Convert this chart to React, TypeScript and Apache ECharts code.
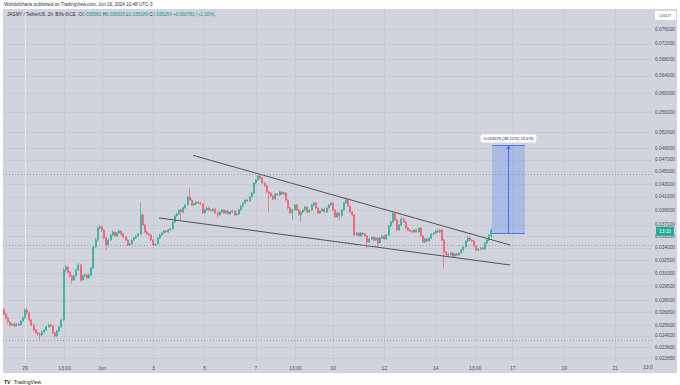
import React, { useEffect, useRef } from "react";
import * as echarts from "echarts";

// ---- time axis (hours relative to May 29, 00:00) ----
const candleStartHour = -20; // first 2h candle: May 28, 04:00
const candleStepHours = 2;
const xMinHour = -20.6;
const xMaxHour = 586.3;
const xTickHours = [0, 37, 72, 120, 168, 216, 253, 288, 336, 384, 421, 456, 504, 552];
const xTickLabels = ["29", "13:00", "Jun", "3", "5", "7", "13:00", "10", "12", "14", "13:00", "17", "19", "21"];

// ---- price axis (logarithmic) ----
const yMinPrice = 0.02235;
const yMaxPrice = 0.08153;
const yTickPrices = [
  0.076, 0.072, 0.068, 0.064, 0.06, 0.056, 0.052, 0.049, 0.047, 0.045, 0.043, 0.041, 0.039, 0.037,
  0.0355, 0.034, 0.0325, 0.031, 0.0295, 0.028, 0.0268, 0.0256, 0.0246, 0.0236, 0.02265,
];

// ---- JASMY / USDT 2h candles ----
const firstOpen = 0.0271;
const closes = [
  0.02667, 0.02628, 0.02589, 0.02561, 0.0257, 0.02552, 0.0257, 0.02561, 0.02598, 0.02628,
  0.02706, 0.02676, 0.02608, 0.02561, 0.02514, 0.02487, 0.02477, 0.02469, 0.02496, 0.02514,
  0.02542, 0.02561, 0.02552, 0.02487, 0.0246, 0.02505, 0.02542, 0.02608, 0.03135, 0.0317,
  0.03112, 0.03067, 0.03022, 0.03067, 0.03135, 0.03193, 0.03022, 0.03067, 0.03078, 0.03044,
  0.03078, 0.03158, 0.03412, 0.035, 0.03658, 0.03672, 0.03631, 0.03526, 0.03437, 0.035,
  0.03565, 0.03604, 0.03552, 0.03591, 0.03618, 0.03578, 0.03539, 0.035, 0.03437, 0.03449,
  0.035, 0.03526, 0.03552, 0.03578, 0.03838, 0.03699, 0.03604, 0.03578, 0.03565, 0.035,
  0.03437, 0.03449, 0.03526, 0.03565, 0.03591, 0.03618, 0.03604, 0.03631, 0.03645, 0.0374,
  0.03824, 0.03852, 0.03909, 0.0388, 0.03937, 0.03981, 0.041, 0.04055, 0.03981, 0.03996,
  0.04025, 0.04011, 0.03996, 0.03866, 0.03909, 0.03937, 0.03909, 0.03895, 0.03923, 0.03866,
  0.03838, 0.0388, 0.03909, 0.03866, 0.03895, 0.03852, 0.0388, 0.03895, 0.03838, 0.03852,
  0.03909, 0.03966, 0.04011, 0.04055, 0.0404, 0.041, 0.04161, 0.04316, 0.04364, 0.04429,
  0.04396, 0.04316, 0.04269, 0.04176, 0.04161, 0.04115, 0.0407, 0.04146, 0.0413, 0.04176,
  0.04146, 0.04161, 0.04055, 0.03937, 0.03866, 0.03909, 0.03981, 0.03909, 0.03838, 0.0388,
  0.03909, 0.03952, 0.0388, 0.03909, 0.03981, 0.04011, 0.03937, 0.03866, 0.03895, 0.03923,
  0.0388, 0.03937, 0.03981, 0.04011, 0.03909, 0.0381, 0.03866, 0.03824, 0.03909, 0.04011,
  0.04055, 0.03966, 0.0388, 0.03838, 0.03565, 0.03591, 0.03552, 0.03591, 0.03578, 0.03552,
  0.03474, 0.03513, 0.03539, 0.035, 0.03526, 0.03462, 0.03526, 0.03552, 0.03513, 0.03565,
  0.03685, 0.0374, 0.03852, 0.03768, 0.03631, 0.03699, 0.03782, 0.0374, 0.03658, 0.03631,
  0.03618, 0.03604, 0.03631, 0.03604, 0.03658, 0.03552, 0.03474, 0.03513, 0.03487, 0.03526,
  0.03578, 0.03591, 0.03618, 0.03604, 0.03631, 0.035, 0.03349, 0.03325, 0.03313, 0.03337,
  0.03301, 0.03325, 0.03313, 0.03337, 0.03374, 0.03412, 0.03487, 0.03526, 0.035, 0.03487,
  0.03424, 0.03374, 0.03387, 0.03399, 0.03387, 0.03462, 0.035, 0.035581, 0.036254,
];
const highs = [
  0.02725, 0.0268, 0.0264, 0.026, 0.02584, 0.02582, 0.02582, 0.0258, 0.0261, 0.02645,
  0.02725, 0.0273, 0.0269, 0.0262, 0.02575, 0.02525, 0.025, 0.0249, 0.02508, 0.02526,
  0.02555, 0.02575, 0.02572, 0.02565, 0.02495, 0.02515, 0.02552, 0.0262, 0.0316, 0.03195,
  0.0318, 0.03125, 0.0308, 0.0308, 0.03148, 0.03215, 0.03205, 0.03085, 0.03095, 0.0309,
  0.0309, 0.0317, 0.0343, 0.03525, 0.0368, 0.037, 0.0369, 0.03645, 0.0354, 0.03515,
  0.0358, 0.03625, 0.03615, 0.03605, 0.03632, 0.0363, 0.0359, 0.0355, 0.0351, 0.03465,
  0.03512, 0.0354, 0.03565, 0.03592, 0.04025, 0.0386, 0.03712, 0.03618, 0.0359, 0.03578,
  0.0351, 0.03462, 0.0354, 0.0358, 0.03605, 0.03632, 0.0363, 0.03645, 0.0366, 0.03755,
  0.0384, 0.03868, 0.03925, 0.03922, 0.03952, 0.03998, 0.0412, 0.04238, 0.0407, 0.04012,
  0.0404, 0.0404, 0.04025, 0.04008, 0.03925, 0.03952, 0.0395, 0.03922, 0.03938, 0.03935,
  0.03878, 0.03895, 0.03922, 0.0392, 0.03908, 0.03905, 0.03895, 0.0391, 0.03905, 0.03866,
  0.03922, 0.0398, 0.04025, 0.0407, 0.04068, 0.04115, 0.04176, 0.04332, 0.0438, 0.04446,
  0.04462, 0.0441, 0.0433, 0.0428, 0.0419, 0.04175, 0.04128, 0.0416, 0.04162, 0.04192,
  0.0419, 0.04176, 0.04172, 0.04065, 0.0395, 0.03922, 0.03995, 0.03995, 0.0392, 0.03892,
  0.03922, 0.03966, 0.03965, 0.03922, 0.03995, 0.0403, 0.04022, 0.0395, 0.03908, 0.03938,
  0.03935, 0.0395, 0.03995, 0.04025, 0.04022, 0.0392, 0.0388, 0.03878, 0.03922, 0.04025,
  0.04085, 0.04068, 0.03978, 0.03892, 0.0385, 0.03605, 0.03605, 0.03605, 0.03605, 0.0359,
  0.03565, 0.03526, 0.03552, 0.03552, 0.0354, 0.03539, 0.0354, 0.03565, 0.03565, 0.03578,
  0.037, 0.03755, 0.0388, 0.03866, 0.03782, 0.03712, 0.0381, 0.03796, 0.03754, 0.03672,
  0.03645, 0.03632, 0.03645, 0.03645, 0.03672, 0.03672, 0.03565, 0.03526, 0.03526, 0.03539,
  0.03591, 0.03604, 0.03632, 0.03658, 0.03645, 0.03645, 0.03513, 0.03362, 0.03337, 0.0335,
  0.03349, 0.03337, 0.03337, 0.03349, 0.03387, 0.03424, 0.035, 0.03552, 0.03539, 0.03513,
  0.035, 0.03437, 0.03399, 0.03412, 0.03412, 0.03474, 0.03513, 0.03578, 0.036635,
];
const lows = [
  0.0265, 0.02612, 0.02575, 0.02548, 0.0255, 0.0254, 0.02542, 0.02549, 0.02552, 0.0259,
  0.0262, 0.02662, 0.02595, 0.02548, 0.025, 0.02475, 0.02462, 0.02424, 0.02458, 0.02488,
  0.02505, 0.02535, 0.0254, 0.02478, 0.02445, 0.02452, 0.02498, 0.02535, 0.026, 0.0311,
  0.03095, 0.0305, 0.0298, 0.0301, 0.03058, 0.03125, 0.03, 0.0301, 0.03055, 0.0303,
  0.03035, 0.0307, 0.0315, 0.034, 0.0349, 0.0364, 0.0361, 0.03505, 0.03374, 0.0342,
  0.0349, 0.03555, 0.0354, 0.0354, 0.0358, 0.03565, 0.03525, 0.03488, 0.0342, 0.03425,
  0.0344, 0.0349, 0.03515, 0.0354, 0.0357, 0.03685, 0.0359, 0.03565, 0.0355, 0.03488,
  0.0342, 0.03425, 0.0344, 0.03515, 0.03555, 0.0358, 0.03592, 0.03595, 0.0362, 0.03635,
  0.0373, 0.0381, 0.0384, 0.03768, 0.03865, 0.03925, 0.0397, 0.0404, 0.03965, 0.03968,
  0.03985, 0.03998, 0.03982, 0.0385, 0.03855, 0.03898, 0.03895, 0.0388, 0.03885, 0.03852,
  0.03796, 0.03828, 0.0387, 0.03852, 0.03855, 0.0384, 0.03842, 0.03868, 0.03824, 0.03826,
  0.03842, 0.03898, 0.03955, 0.04, 0.04025, 0.0403, 0.0409, 0.0415, 0.043, 0.0435,
  0.0438, 0.043, 0.04255, 0.0416, 0.0388, 0.041, 0.04055, 0.0406, 0.04115, 0.0412,
  0.04132, 0.04135, 0.0404, 0.03922, 0.0385, 0.03768, 0.03898, 0.03895, 0.03824, 0.0374,
  0.03868, 0.03898, 0.03866, 0.03868, 0.03898, 0.0397, 0.03922, 0.03852, 0.03855, 0.03885,
  0.03866, 0.0387, 0.03925, 0.0397, 0.03895, 0.03796, 0.038, 0.03768, 0.03815, 0.03898,
  0.04, 0.03952, 0.03866, 0.03824, 0.0355, 0.03552, 0.03539, 0.0354, 0.03565, 0.03539,
  0.03399, 0.03462, 0.035, 0.03487, 0.03488, 0.03412, 0.03449, 0.03513, 0.035, 0.035,
  0.03552, 0.03672, 0.03726, 0.03754, 0.03618, 0.03618, 0.03685, 0.03726, 0.03645, 0.03618,
  0.03604, 0.03591, 0.03591, 0.03591, 0.03591, 0.03539, 0.03462, 0.03462, 0.03474, 0.03474,
  0.03513, 0.03565, 0.03578, 0.03591, 0.03591, 0.03487, 0.0315, 0.03301, 0.0329, 0.03301,
  0.03289, 0.03289, 0.03301, 0.03301, 0.03325, 0.03362, 0.03399, 0.03474, 0.03487, 0.03474,
  0.03412, 0.03362, 0.03362, 0.03374, 0.03374, 0.03374, 0.03449, 0.03487, 0.035186,
];

// ---- drawings ----
const upperTrend = [[157.1, 0.04778], [453.5, 0.03437]];
const lowerTrend = [[125.3, 0.03796], [453.5, 0.03193]];
const horizontalLevels = [0.04478, 0.03424, 0.02415];
const rangeHours = [436.7, 467.5];
const rangePrices = [0.035876, 0.049552];
const rangeLabel = "0.013676 (38.12%) 13,676";
const countdownLabel = "13:10";

const FONT = "'Liberation Sans', Arial, sans-serif";
const PANEL_BG = "#d1d4dc";
const GRID = "#c8cbd4";
const UP = "#22ab94";
const DOWN = "#f7525f";
const TEXT = "#4a4e5a";

export default function App() {
  const ref = useRef<HTMLDivElement>(null);

  useEffect(() => {
    if (!ref.current) return;
    const chart = echarts.init(ref.current, undefined, { renderer: "svg" });
    const ln = Math.log;
    const opens = [firstOpen, ...closes.slice(0, -1)];
    const candleData = closes.map((c, i) => [
      candleStartHour + candleStepHours * i,
      ln(opens[i]),
      ln(c),
      ln(lows[i]),
      ln(highs[i]),
    ]);
    const yTickLogs = yTickPrices.map((p) => ln(p));
    const midHour = (rangeHours[0] + rangeHours[1]) / 2;
    const lastClose = closes[closes.length - 1];

    chart.setOption({
      animation: false,
      backgroundColor: "#ffffff",
      textStyle: { fontFamily: FONT },
      grid: { left: 3, right: 28, top: 10, bottom: 23 },
      xAxis: {
        type: "value",
        min: xMinHour,
        max: xMaxHour,
        axisLine: { show: false },
        axisTick: { show: false, customValues: xTickHours },
        axisLabel: {
          customValues: xTickHours,
          formatter: (v: number) => {
            const k = xTickHours.indexOf(v);
            return k >= 0 ? xTickLabels[k] : "";
          },
          fontSize: 5,
          color: TEXT,
          margin: 3,
          fontFamily: FONT,
        },
        splitLine: { show: true, lineStyle: { color: GRID, width: 1 } },
      },
      yAxis: {
        type: "value",
        position: "right",
        min: ln(yMinPrice),
        max: ln(yMaxPrice),
        axisLine: { show: true, lineStyle: { color: "#e3e5ea", width: 1 } },
        axisTick: { show: false, customValues: yTickLogs },
        axisLabel: {
          customValues: yTickLogs,
          formatter: (v: number) => Math.exp(v).toFixed(6),
          fontSize: 4.8,
          color: TEXT,
          margin: 3,
          fontFamily: FONT,
        },
        splitLine: { show: true, lineStyle: { color: GRID, width: 1 } },
      },
      series: [
        {
          type: "candlestick",
          data: candleData,
          barWidth: 1.5,
          itemStyle: {
            color: UP,
            color0: DOWN,
            borderColor: UP,
            borderColor0: DOWN,
            borderWidth: 0.6,
          },
          markLine: {
            silent: true,
            symbol: ["none", "none"],
            label: { show: false },
            lineStyle: { color: "#8a8d97", width: 0.8, type: [1, 2] },
            data: horizontalLevels.map((p) => ({ yAxis: ln(p) })),
          },
          markArea: {
            silent: true,
            itemStyle: { color: "rgba(41, 98, 255, 0.22)" },
            label: {
              show: true,
              position: "top",
              distance: 3,
              formatter: rangeLabel,
              backgroundColor: "#ffffff",
              borderRadius: 2,
              padding: [2, 3],
              fontSize: 4.2,
              color: "#131722",
              fontFamily: FONT,
            },
            data: [
              [
                { coord: [rangeHours[0], ln(rangePrices[0])] },
                { coord: [rangeHours[1], ln(rangePrices[1])] },
              ],
            ],
          },
        },
        {
          type: "line",
          data: upperTrend.map((d) => [d[0], ln(d[1])]),
          symbol: "none",
          lineStyle: { color: "#50535e", width: 1 },
          silent: true,
        },
        {
          type: "line",
          data: lowerTrend.map((d) => [d[0], ln(d[1])]),
          symbol: "none",
          lineStyle: { color: "#50535e", width: 1 },
          silent: true,
        },
        {
          type: "line",
          data: [],
          silent: true,
          markLine: {
            silent: true,
            symbol: ["none", "none"],
            label: { show: false },
            lineStyle: { color: "#2962ff", width: 1, type: "solid", opacity: 0.8 },
            data: [
              [
                { coord: [rangeHours[0], ln(rangePrices[0])] },
                { coord: [rangeHours[1], ln(rangePrices[0])] },
              ],
              [
                { coord: [rangeHours[0], ln(rangePrices[1])] },
                { coord: [rangeHours[1], ln(rangePrices[1])] },
              ],
            ],
          },
        },
        {
          type: "line",
          data: [],
          silent: true,
          markLine: {
            silent: true,
            symbol: ["none", "arrow"],
            symbolSize: 4,
            label: { show: false },
            lineStyle: { color: "#2962ff", width: 1, type: "solid", opacity: 0.8 },
            data: [
              [
                { coord: [midHour, ln(rangePrices[0])] },
                { coord: [midHour, ln(rangePrices[1])] },
              ],
            ],
          },
        },
        {
          type: "line",
          data: [],
          silent: true,
          markLine: {
            silent: true,
            symbol: ["none", "none"],
            lineStyle: { color: "rgba(0,0,0,0)", width: 0 },
            label: {
              show: true,
              position: "end",
              distance: 4,
              formatter: countdownLabel,
              backgroundColor: UP,
              color: "#ffffff",
              fontSize: 4.8,
              padding: [2, 3],
              fontFamily: FONT,
            },
            data: [{ yAxis: ln(lastClose) }],
          },
        },
      ],
      graphic: [
        {
          type: "rect",
          z: -100,
          shape: { x: 3, y: 9, width: 674, height: 364 },
          style: { fill: PANEL_BG },
          silent: true,
        },
        {
          type: "text",
          x: 4,
          y: 2,
          style: {
            text: "Worldofcharts published on TradingView.com, Jun 16, 2024 10:48 UTC-3",
            fontSize: 4.6,
            fill: "#2a2e39",
            fontFamily: FONT,
          },
        },
        {
          type: "text",
          x: 7,
          y: 12,
          style: {
            text:
              "{a|JASMY / TetherUS, 2h, BINANCE}  {a|O}{g|0.035581} {a|H}{g|0.036635} {a|L}{g|0.035186} {a|C}{g|0.036254} {g|+0.000781 (+2.20%)}",
            fontSize: 4.6,
            fontFamily: FONT,
            rich: {
              a: { fill: "#2a2e39", fontSize: 4.6, fontFamily: FONT },
              g: { fill: "#089981", fontSize: 4.6, fontFamily: FONT },
            },
          },
        },
        {
          type: "rect",
          shape: { x: 655, y: 11, width: 21, height: 9, r: 1 },
          style: { fill: "#ffffff" },
        },
        {
          type: "text",
          x: 665.5,
          y: 15.5,
          style: {
            text: "USDT",
            fontSize: 4.4,
            fill: "#4a4e5a",
            align: "center",
            verticalAlign: "middle",
            fontFamily: FONT,
          },
        },
        {
          type: "text",
          x: 643,
          y: 364.5,
          style: { text: "13:0", fontSize: 5, fill: TEXT, fontFamily: FONT },
        },
        {
          type: "text",
          x: 4,
          y: 376,
          style: {
            text: "{b|TV} {a|TradingView}",
            fontFamily: FONT,
            rich: {
              b: { fill: "#131722", fontSize: 5, fontWeight: "bold", fontFamily: FONT },
              a: { fill: "#131722", fontSize: 5, fontFamily: FONT },
            },
          },
        },
      ],
    });
    return () => chart.dispose();
  }, []);

  return (
    <div
      ref={ref}
      style={{ position: "fixed", left: 0, top: 0, width: 680, height: 385 }}
    />
  );
}
